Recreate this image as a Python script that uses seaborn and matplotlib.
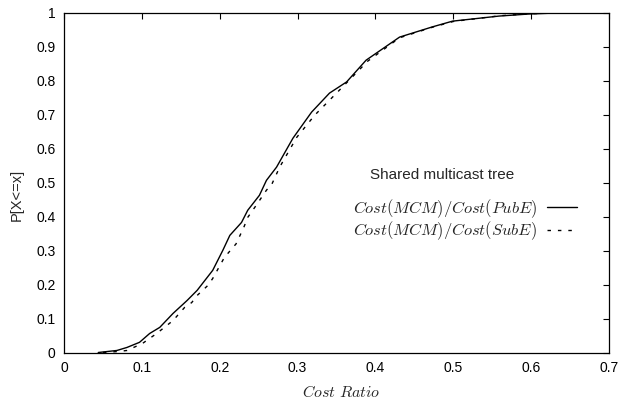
import matplotlib
matplotlib.use("Agg")
import matplotlib.pyplot as plt
import seaborn as sns
import pandas as pd
from matplotlib.lines import Line2D

# CDF of cost ratio, MCM vs PubE (solid)
pub_x = [0.044, 0.068, 0.081, 0.097, 0.110, 0.123, 0.140, 0.158, 0.171, 0.191,
         0.204, 0.213, 0.228, 0.236, 0.251, 0.260, 0.273, 0.294, 0.318, 0.341,
         0.363, 0.388, 0.431, 0.473, 0.499, 0.559, 0.597, 0.632]
pub_p = [0.000, 0.006, 0.015, 0.030, 0.056, 0.074, 0.115, 0.153, 0.183, 0.242,
         0.301, 0.345, 0.383, 0.419, 0.463, 0.507, 0.546, 0.631, 0.708, 0.764,
         0.797, 0.861, 0.929, 0.959, 0.976, 0.991, 0.997, 1.000]

# CDF of cost ratio, MCM vs SubE (dashed)
sub_x = [0.050, 0.070, 0.081, 0.101, 0.119, 0.140, 0.155, 0.164, 0.171, 0.185,
         0.191, 0.206, 0.221, 0.231, 0.236, 0.247, 0.260, 0.267, 0.277, 0.299,
         0.322, 0.350, 0.379, 0.390, 0.431, 0.473, 0.500, 0.560, 0.600, 0.630]
sub_p = [0.000, 0.003, 0.006, 0.027, 0.056, 0.094, 0.133, 0.147, 0.168, 0.198,
         0.218, 0.280, 0.320, 0.369, 0.398, 0.434, 0.478, 0.496, 0.546, 0.634,
         0.699, 0.764, 0.832, 0.858, 0.927, 0.958, 0.975, 0.992, 0.998, 1.000]

series_labels = [r"$Cost(MCM)/Cost(PubE)$", r"$Cost(MCM)/Cost(SubE)$"]
legend_title = "Shared multicast tree"
x_ticks = [0, 0.1, 0.2, 0.3, 0.4, 0.5, 0.6, 0.7]
y_ticks = [0, 0.1, 0.2, 0.3, 0.4, 0.5, 0.6, 0.7, 0.8, 0.9, 1]

df = pd.concat([
    pd.DataFrame({"x": pub_x, "P": pub_p, "series": series_labels[0]}),
    pd.DataFrame({"x": sub_x, "P": sub_p, "series": series_labels[1]}),
], ignore_index=True)

sns.set_theme(style="white")
plt.rcParams["font.family"] = ["Liberation Sans", "DejaVu Sans"]
plt.rcParams["mathtext.fontset"] = "cm"
plt.rcParams["xtick.direction"] = "in"
plt.rcParams["ytick.direction"] = "in"

fig = plt.figure(figsize=(6.21, 4.07), dpi=100)
ax = fig.add_axes([64 / 621, 1 - 352.5 / 407, 545 / 621, 339.5 / 407])

sns.lineplot(data=df, x="x", y="P", hue="series", style="series",
             palette=["black", "black"], dashes=["", (2.5, 5)],
             estimator=None, sort=True, linewidth=1.0, ax=ax, legend=False)

ax.set_xlim(0, 0.7)
ax.set_ylim(0, 1)
ax.set_xticks(x_ticks)
ax.set_xticklabels([f"{t:g}" for t in x_ticks])
ax.set_yticks(y_ticks)
ax.set_yticklabels([f"{t:g}" for t in y_ticks])
ax.tick_params(axis="both", which="both", direction="in", length=4, width=0.8,
               top=True, right=True, labelsize=10, pad=6, colors="black")
for s in ax.spines.values():
    s.set_color("black")
    s.set_linewidth(0.9)
    s.set_visible(True)

ax.set_xlabel(r"$Cost\ Ratio$", fontsize=11.5)
ax.xaxis.set_label_coords((341 - 64) / 545, -(392 - 352.5) / 339.5)
ax.xaxis.label.set_va("center")
ax.set_ylabel("P[X<=x]", fontsize=10.5)
ax.yaxis.set_label_coords(-(64 - 17) / 545, 1 - (195 - 13) / 339.5)
ax.yaxis.label.set_va("center")

ax.text((370 - 64) / 545, 1 - (175 - 13) / 339.5, legend_title,
        transform=ax.transAxes, fontsize=11, va="center", ha="left")

handles = [Line2D([], [], color="black", linewidth=1.0),
           Line2D([], [], color="black", linewidth=1.0, dashes=(2.5, 5))]
ax.legend(handles, series_labels, loc="upper left",
          bbox_to_anchor=((353 - 64) / 545, 1 - (197 - 13) / 339.5),
          frameon=False, markerfirst=False, fontsize=11.9, handlelength=1.8,
          handletextpad=0.6, labelspacing=0.0, borderpad=0, borderaxespad=0)

fig.savefig("out.png", dpi=100)
